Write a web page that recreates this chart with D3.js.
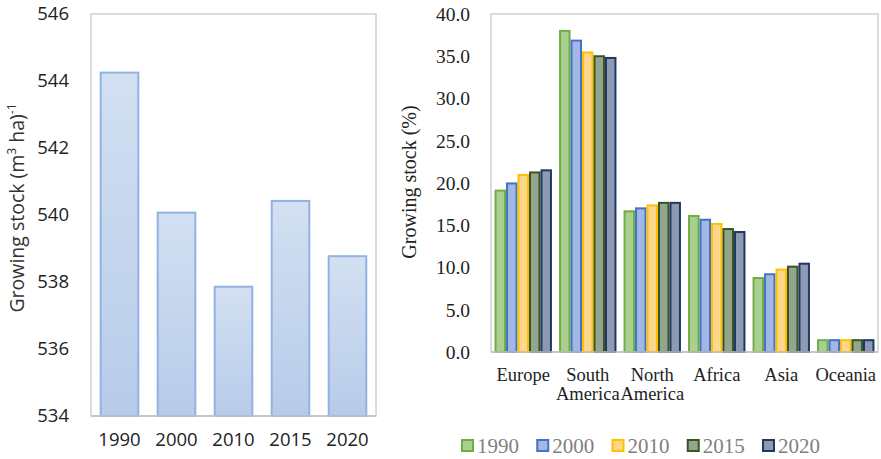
<!DOCTYPE html>
<html><head><meta charset="utf-8">
<script src="https://cdn.jsdelivr.net/npm/d3@7"></script>
<style>
body{margin:0;background:#fff;}
svg{display:block;}
</style></head>
<body>
<svg id="c" width="881" height="459"></svg>
<script>
// Left chart data
const years = ["1990","2000","2010","2015","2020"];
const totalStock = [544.25, 540.07, 537.86, 540.42, 538.77];
const leftTicks = [534,536,538,540,542,544,546];

// Right chart data
const regions = ["Europe","South America","North America","Africa","Asia","Oceania"];
const share1990 = [19.1, 38.0, 16.65, 16.1, 8.75, 1.4];
const share2000 = [19.95, 36.85, 17.0, 15.65, 9.2, 1.4];
const share2010 = [20.95, 35.45, 17.35, 15.15, 9.75, 1.4];
const share2015 = [21.25, 35.0, 17.65, 14.55, 10.1, 1.4];
const share2020 = [21.5, 34.8, 17.65, 14.2, 10.45, 1.4];
const rightTicks = [0,5,10,15,20,25,30,35,40];

const seriesValues = [share1990, share2000, share2010, share2015, share2020];
const fills = ["#a9d08e","#a2b7e3","#ffd78c","#93a68d","#8e9ab4"];
const strokes = ["#70ad47","#4472c4","#ffc000","#375623","#203864"];

const svg = d3.select("#c");

// ---------- Left chart ----------
const L = {x0:91, x1:376, y0:14, y1:416};
const xl = d3.scaleBand().domain(years).range([L.x0, L.x1]).paddingInner(0.34).paddingOuter(0.17);
const yl = d3.scaleLinear().domain([534,546]).range([L.y1, L.y0]);

const defs = svg.append("defs");
const grad = defs.append("linearGradient").attr("id","lg").attr("x1",0).attr("y1",0).attr("x2",0).attr("y2",1);
grad.append("stop").attr("offset","0%").attr("stop-color","#d3e0f2");
grad.append("stop").attr("offset","100%").attr("stop-color","#b7cbe9");

svg.append("rect").attr("x",L.x0).attr("y",L.y0).attr("width",L.x1-L.x0).attr("height",L.y1-L.y0)
  .attr("fill","none").attr("stroke","#d0d0d0").attr("stroke-width",1.5);

svg.append("g").selectAll("rect").data(years).join("rect")
  .attr("x", d=>xl(d)).attr("width", xl.bandwidth())
  .attr("y", (d,i)=>yl(totalStock[i])).attr("height",(d,i)=>yl(534)-yl(totalStock[i]))
  .attr("fill","url(#lg)").attr("stroke","#92b3e2").attr("stroke-width",2);

svg.append("line").attr("x1",L.x0).attr("x2",L.x1).attr("y1",L.y1).attr("y2",L.y1)
  .attr("stroke","#c0c0c0").attr("stroke-width",1.5);

const gyl = svg.append("g").attr("transform",`translate(${L.x0},0)`)
  .call(d3.axisLeft(yl).tickValues(leftTicks).tickSize(0).tickPadding(22).tickFormat(d3.format("d")));
gyl.select(".domain").remove();
gyl.selectAll("text").attr("font-family","'Open Sans', sans-serif").attr("font-size",18.5).attr("fill","#222");

const gxl = svg.append("g").attr("transform",`translate(0,${L.y1})`)
  .call(d3.axisBottom(xl).tickSize(0).tickPadding(17));
gxl.select(".domain").remove();
gxl.selectAll("text").attr("font-family","'Open Sans', sans-serif").attr("font-size",18.5).attr("fill","#222");

const lt = svg.append("text").attr("transform","translate(24,208) rotate(-90)")
  .attr("text-anchor","middle").attr("font-family","'Open Sans', sans-serif").attr("font-size",19.5).attr("fill","#333");
lt.append("tspan").text("Growing stock (m");
lt.append("tspan").attr("font-size",12).attr("dy",-8).text("3");
lt.append("tspan").attr("dy",8).text(" ha)");
lt.append("tspan").attr("font-size",12).attr("dy",-8).text("-1");

// ---------- Right chart ----------
const R = {x0:491, x1:878, y0:14, y1:352};
const x0 = d3.scaleBand().domain(regions).range([R.x0, R.x1]).paddingInner(0.11).paddingOuter(0.055);
const x1 = d3.scaleBand().domain(years).range([0, x0.bandwidth()]).padding(0);
const yr = d3.scaleLinear().domain([0,40]).range([R.y1, R.y0]);

svg.append("rect").attr("x",R.x0).attr("y",R.y0).attr("width",R.x1-R.x0).attr("height",R.y1-R.y0)
  .attr("fill","none").attr("stroke","#cfcfcf").attr("stroke-width",1.5);

years.forEach((yr_, si) => {
  svg.append("g").selectAll("rect").data(regions).join("rect")
    .attr("x", d => x0(d) + x1(yr_) + 1)
    .attr("width", x1.bandwidth() - 2)
    .attr("y", (d,i) => yr(seriesValues[si][i]))
    .attr("height", (d,i) => yr(0) - yr(seriesValues[si][i]))
    .attr("fill", fills[si]).attr("stroke", strokes[si]).attr("stroke-width", 2);
});

svg.append("line").attr("x1",R.x0).attr("x2",R.x1).attr("y1",R.y1).attr("y2",R.y1)
  .attr("stroke","#c0c0c0").attr("stroke-width",1.5);

const gyr = svg.append("g").attr("transform",`translate(${R.x0},0)`)
  .call(d3.axisLeft(yr).tickValues(rightTicks).tickSize(0).tickPadding(21).tickFormat(d3.format(".1f")));
gyr.select(".domain").remove();
gyr.selectAll("text").attr("font-family","'Liberation Serif', 'Times New Roman', serif").attr("font-size",19.5).attr("fill","#222");

const gxr = svg.append("g").attr("transform",`translate(0,${R.y1})`)
  .call(d3.axisBottom(x0).tickSize(0).tickPadding(0).tickFormat(""));
gxr.select(".domain").remove();
gxr.selectAll(".tick").each(function(d){
  const words = d.split(" ");
  const t = d3.select(this).append("text").attr("fill","#222")
    .attr("font-family","'Liberation Serif', 'Times New Roman', serif").attr("font-size",18.5)
    .attr("text-anchor","middle");
  words.forEach((w,i)=>{
    t.append("tspan").attr("x",0).attr("y", 29 + i*19).text(w);
  });
});

svg.append("text").attr("transform","translate(416,182) rotate(-90)")
  .attr("text-anchor","middle").attr("font-family","'Liberation Serif', 'Times New Roman', serif")
  .attr("font-size",20).attr("fill","#222").text("Growing stock (%)");

// Legend
const legend = svg.append("g");
const legX = d3.scalePoint().domain(years).range([462, 763]);
years.forEach((y, i) => {
  const g = legend.append("g").attr("transform", `translate(${legX(y)},446)`);
  g.append("rect").attr("x",0).attr("y",-6).attr("width",11).attr("height",11)
    .attr("fill", fills[i]).attr("stroke", strokes[i]).attr("stroke-width",2);
  g.append("text").attr("x",15).attr("y",7).text(y)
    .attr("font-family","'Liberation Serif', 'Times New Roman', serif").attr("font-size",21).attr("fill","#7f7f7f");
});
</script>
</body></html>
